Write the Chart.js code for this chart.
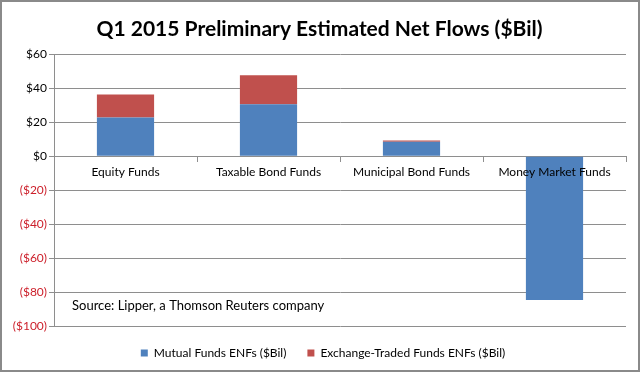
<!DOCTYPE html>
<html>
<head>
<meta charset="utf-8">
<script src="https://cdn.jsdelivr.net/npm/chart.js@4/dist/chart.umd.min.js"></script>
<style>
  html, body { margin: 0; padding: 0; background: #fff; }
  .marco {
    width: 640px; height: 372px;
    box-sizing: border-box;
    border: 2px solid #8a8a8a;
    background: #fff;
  }
  canvas { display: block; }
</style>
</head>
<body>
<div class="marco">
  <canvas id="grafico" width="636" height="368"></canvas>
</div>
<script>
const categorias = ["Equity Funds", "Taxable Bond Funds", "Municipal Bond Funds", "Money Market Funds"];
const fondosMutuos = [22.8, 30.6, 8.4, -84.7];
const fondosETF = [13.5, 17.0, 0.8, 0];
const ticksY = [60, 40, 20, 0, -20, -40, -60, -80, -100];
const fuente = "Source: Lipper, a Thomson Reuters company";

const familia = "Lato, 'Open Sans', sans-serif";

// the source note sits inside the plot, bottom left
const textoFuente = {
    id: "textoFuente",
    afterDraw(chart) {
        const ctx = chart.ctx;
        ctx.save();
        ctx.font = "13px " + familia;
        ctx.fillStyle = "#000";
        ctx.textAlign = "left";
        ctx.textBaseline = "middle";
        ctx.fillText(fuente, 70, 304);
        ctx.restore();
    }
};

// title and legend are a bit right of centre in the original
const correrCajas = {
    id: "correrCajas",
    afterLayout(chart) {
        if (chart.legend) chart.legend.left += 18;
        if (chart.titleBlock) chart.titleBlock.left += 11;
    }
};

const ctx = document.getElementById("grafico").getContext("2d");
const grafico = new Chart(ctx, {
    type: "bar",
    data: {
        labels: categorias,
        datasets: [
            {
                label: "Mutual Funds ENFs ($Bil)",
                data: fondosMutuos,
                backgroundColor: "#4f81bd",
                borderWidth: 0
            },
            {
                label: "Exchange-Traded Funds ENFs ($Bil)",
                data: fondosETF,
                backgroundColor: "#c0504d",
                borderWidth: 0
            }
        ]
    },
    options: {
        responsive: false,
        animation: false,
        devicePixelRatio: 1,
        layout: {
            padding: { top: 0, right: 12, bottom: 1, left: 0 }
        },
        datasets: {
            bar: {
                categoryPercentage: 1,
                barPercentage: 0.4
            }
        },
        scales: {
            x: {
                stacked: true,
                position: { y: 0 },
                grid: {
                    drawOnChartArea: false,
                    color: "#8e8e8e",
                    tickLength: 5,
                    offset: true
                },
                border: { color: "#8e8e8e" },
                ticks: {
                    z: 1,
                    color: "#000",
                    font: { family: familia, size: 12 },
                    padding: 4,
                    maxRotation: 0
                }
            },
            y: {
                stacked: true,
                min: -100,
                max: 60,
                afterFit(scale) { scale.width = 52; },
                afterBuildTicks(scale) {
                    scale.ticks = ticksY.map(v => ({ value: v }));
                },
                grid: {
                    color: "#8e8e8e",
                    tickLength: 5
                },
                border: { color: "#8e8e8e" },
                ticks: {
                    font: { family: familia, size: 12 },
                    padding: 2,
                    color: c => c.tick.value < 0 ? "#cc1f2a" : "#000",
                    callback: v => v < 0 ? "($" + (-v) + ")" : "$" + v
                }
            }
        },
        plugins: {
            title: {
                display: true,
                text: "Q1 2015 Preliminary Estimated Net Flows ($Bil)",
                color: "#000",
                font: { family: familia, size: 21, weight: "bold" },
                padding: { top: 15, bottom: 12 }
            },
            legend: {
                position: "bottom",
                labels: {
                    boxWidth: 7,
                    boxHeight: 7,
                    padding: 21,
                    color: "#000",
                    font: { family: familia, size: 12 }
                }
            },
            tooltip: { enabled: false }
        }
    },
    plugins: [textoFuente, correrCajas]
});
</script>
</body>
</html>
